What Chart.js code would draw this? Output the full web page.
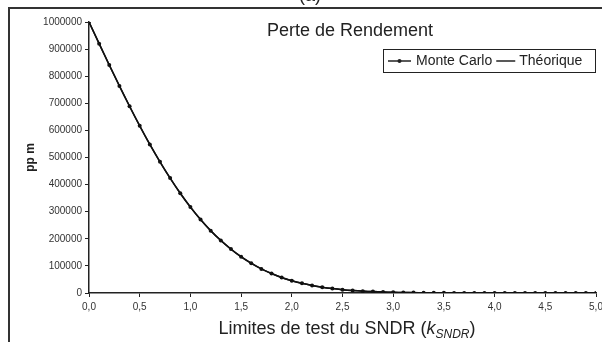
<!DOCTYPE html>
<html lang="fr">
<head>
<meta charset="UTF-8">
<title>Perte de Rendement</title>
<script src="https://cdn.jsdelivr.net/npm/chart.js"></script>
<style>
  body { margin: 0; background: #fff; overflow: hidden; }
  /* cadre de la figure : trait en haut et a gauche */
  #cadre { position: absolute; left: 8px; top: 7px; width: 700px; height: 400px;
           border-top: 2px solid #333; border-left: 2px solid #333; }
  canvas { position: absolute; left: 0; top: 0; }
</style>
</head>
<body>
<div id="cadre"></div>
<canvas id="graphe" width="640" height="342"></canvas>
<script>
// limites de test k_SNDR
const kSndr = [0.0, 0.1, 0.2, 0.3, 0.4, 0.5, 0.6, 0.7, 0.8, 0.9,
               1.0, 1.1, 1.2, 1.3, 1.4, 1.5, 1.6, 1.7, 1.8, 1.9,
               2.0, 2.1, 2.2, 2.3, 2.4, 2.5, 2.6, 2.7, 2.8, 2.9,
               3.0, 3.1, 3.2, 3.3, 3.4, 3.5, 3.6, 3.7, 3.8, 3.9,
               4.0, 4.1, 4.2, 4.3, 4.4, 4.5, 4.6, 4.7, 4.8, 4.9, 5.0];

// perte de rendement en ppm
const monteCarlo = [1000000, 920000, 841000, 764000, 689000, 617000, 548000, 484000, 424000, 368000,
                    317000, 271000, 230000, 194000, 162000, 134000, 110000, 89000, 72000, 57000,
                    45500, 35700, 27800, 21400, 16400, 12400, 9300, 6900, 5100, 3700,
                    2700, 1900, 1400, 970, 670, 470, 320, 220, 150, 100,
                    60, 40, 30, 20, 10, 10, 0, 0, 0, 0, 0];
const theorique = [1000000, 920344, 841481, 764177, 689157, 617075, 548506, 483927, 423711, 368120,
                   317311, 271332, 230139, 193601, 161513, 133614, 109599, 89131, 71861, 57433,
                   45500, 35729, 27807, 21448, 16395, 12419, 9322, 6933, 5110, 3732,
                   2700, 1935, 1374, 967, 674, 465, 318, 216, 145, 96,
                   63, 41, 27, 17, 11, 7, 4, 3, 2, 1, 1];

const police = "'Liberation Sans', Arial, sans-serif";
const encre = '#222';

const points = vals => vals.map((v, i) => ({ x: kSndr[i], y: v }));

// titre, legende et titre de l'axe x dessines a la main
const decor = {
  id: 'decor',
  afterDraw(chart) {
    const ctx = chart.ctx;
    ctx.save();
    ctx.fillStyle = encre;
    ctx.strokeStyle = encre;

    ctx.font = '18px ' + police;
    ctx.textAlign = 'center';
    ctx.textBaseline = 'alphabetic';
    ctx.fillText('(a)', 310, 1);

    ctx.textBaseline = 'middle';
    ctx.fillText('Perte de Rendement', 350, 31);

    // legende
    ctx.lineWidth = 1;
    ctx.strokeRect(383.5, 49.5, 212, 23);
    ctx.font = '14px ' + police;
    ctx.textAlign = 'left';
    ctx.lineWidth = 1.5;
    ctx.beginPath(); ctx.moveTo(388, 61); ctx.lineTo(411, 61); ctx.stroke();
    ctx.beginPath(); ctx.arc(399.5, 61, 2, 0, Math.PI * 2); ctx.fill();
    let lx = 416;
    ctx.fillText('Monte Carlo', lx, 61);
    lx += ctx.measureText('Monte Carlo').width + 4;
    ctx.beginPath(); ctx.moveTo(lx, 61); ctx.lineTo(lx + 19, 61); ctx.stroke();
    ctx.fillText('Théorique', lx + 23, 61);

    // titre de l'axe x avec indice
    ctx.textBaseline = 'alphabetic';
    const base = 'Limites de test du SNDR (';
    const fN = '18px ' + police, fK = 'italic 18px ' + police, fS = 'italic 12px ' + police;
    ctx.font = fN; const w1 = ctx.measureText(base).width, w4 = ctx.measureText(')').width;
    ctx.font = fK; const w2 = ctx.measureText('k').width;
    ctx.font = fS; const w3 = ctx.measureText('SNDR').width;
    let x = 347 - (w1 + w2 + w3 + w4) / 2;
    const y = 334;
    ctx.font = fN; ctx.fillText(base, x, y); x += w1;
    ctx.font = fK; ctx.fillText('k', x, y); x += w2;
    ctx.font = fS; ctx.fillText('SNDR', x, y + 4); x += w3;
    ctx.font = fN; ctx.fillText(')', x, y);
    ctx.restore();
  }
};

new Chart(document.getElementById('graphe'), {
  type: 'line',
  data: {
    datasets: [
      {
        label: 'Théorique',
        data: points(theorique),
        borderColor: '#111',
        borderWidth: 1.5,
        pointRadius: 0,
        tension: 0.3,
        order: 2
      },
      {
        label: 'Monte Carlo',
        data: points(monteCarlo),
        borderColor: '#111',
        backgroundColor: '#111',
        borderWidth: 1.5,
        pointRadius: 2,
        pointBorderWidth: 0,
        tension: 0.3,
        order: 1
      }
    ]
  },
  options: {
    responsive: false,
    animation: false,
    layout: { padding: { left: 9, top: 22, right: 44, bottom: 0 } },
    plugins: { legend: { display: false }, tooltip: { enabled: false } },
    scales: {
      x: {
        type: 'linear',
        min: 0,
        max: 5,
        afterFit: s => { s.height = 49; },
        border: { color: encre, width: 1.5 },
        grid: { drawOnChartArea: false, tickLength: 4, color: encre },
        ticks: {
          stepSize: 0.5,
          padding: 4,
          color: '#333',
          font: { family: police, size: 10 },
          callback: v => v.toFixed(1).replace('.', ',')
        }
      },
      y: {
        min: 0,
        max: 1000000,
        afterFit: s => { s.width = 80; },
        border: { color: encre, width: 1.5 },
        grid: { drawOnChartArea: false, tickLength: 4, color: encre },
        ticks: {
          stepSize: 100000,
          padding: 3,
          color: '#333',
          font: { family: police, size: 10 },
          callback: v => String(v)
        },
        title: {
          display: true,
          text: 'pp m',
          color: encre,
          font: { family: police, size: 12, weight: 'bold' },
          padding: { top: 14, bottom: 0 }
        }
      }
    }
  },
  plugins: [decor]
});
</script>
</body>
</html>
